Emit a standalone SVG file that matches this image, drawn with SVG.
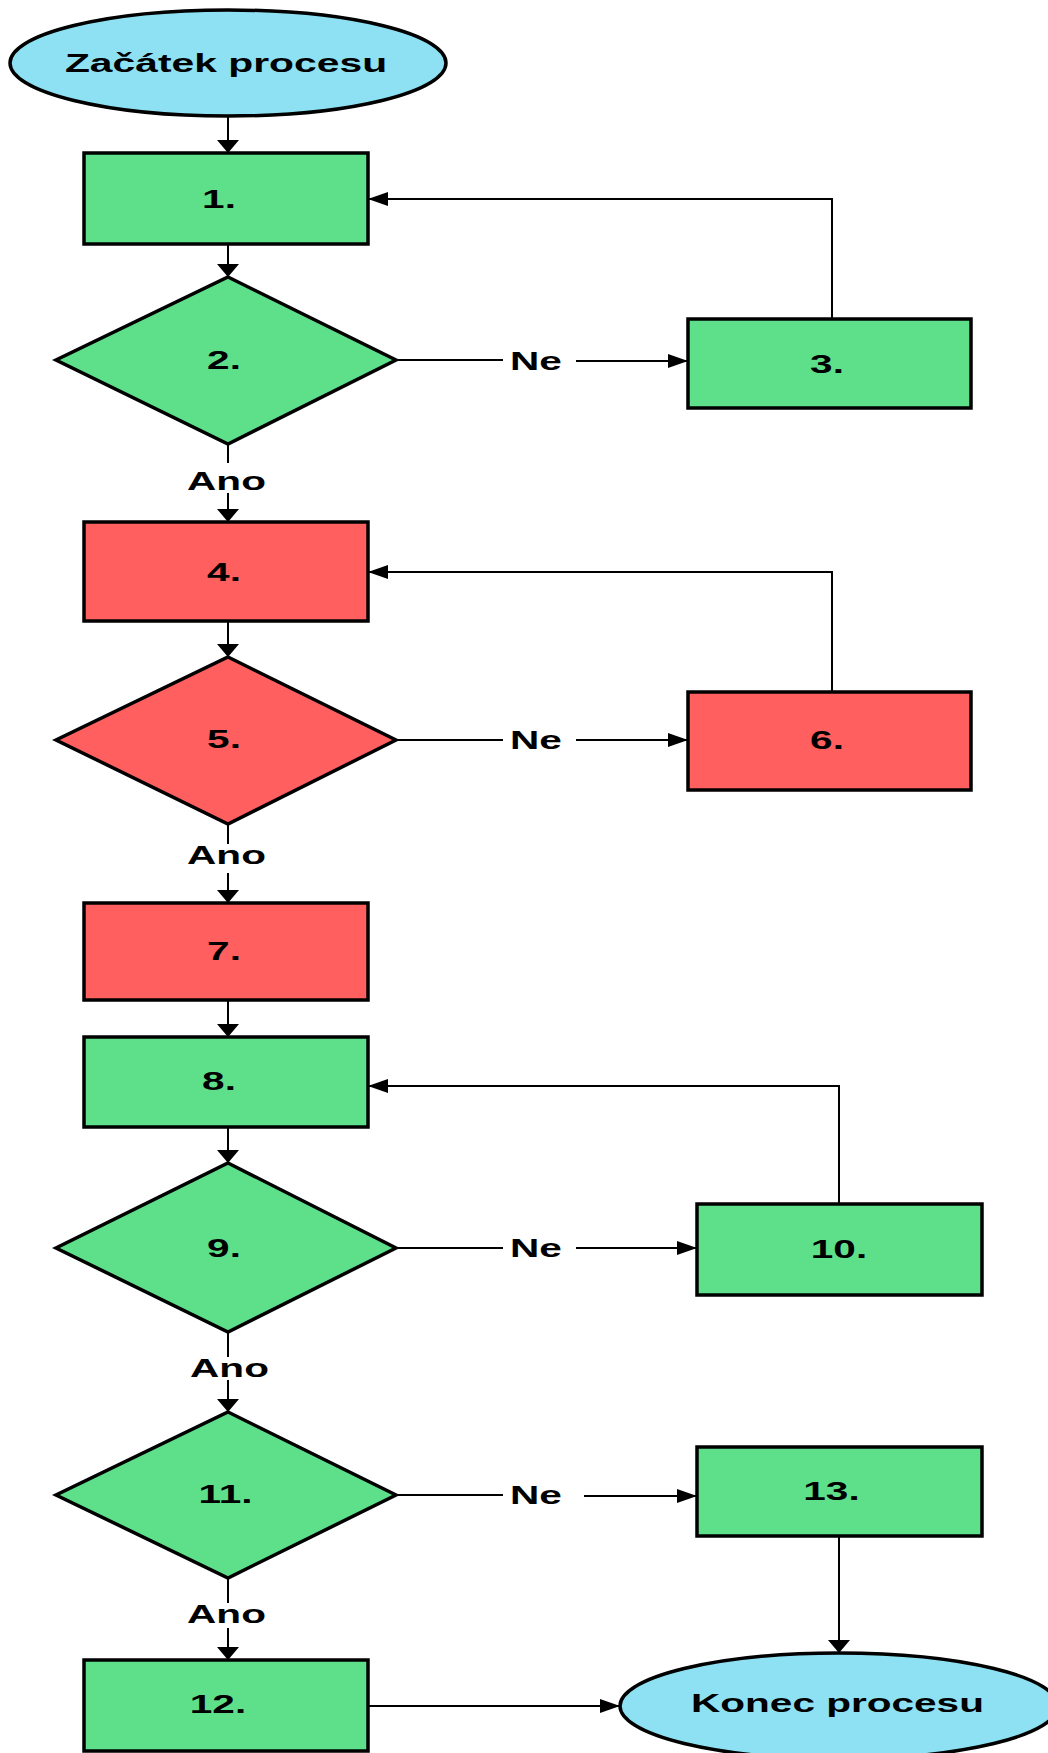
<svg xmlns="http://www.w3.org/2000/svg" width="1048" height="1753" viewBox="0 0 1048 1753">
<style>
.g{fill:#5EE08B;stroke:#000;stroke-width:3.5;stroke-linejoin:miter}
.r{fill:#FF5F5F;stroke:#000;stroke-width:3.5;stroke-linejoin:miter}
.b{fill:#8DE1F2;stroke:#000;stroke-width:3.5}
.c{fill:none;stroke:#000;stroke-width:2}
.t{font-family:"Liberation Sans",Arial,sans-serif;font-weight:bold;font-size:26px;fill:#000;text-anchor:middle}
</style>
<defs>
<marker id="aV" markerUnits="userSpaceOnUse" orient="auto" markerWidth="13" markerHeight="22" refX="13" refY="11" viewBox="0 0 13 22"><path d="M0,0 L13,11 L0,22 z" fill="#000"/></marker>
<marker id="aH" markerUnits="userSpaceOnUse" orient="auto" markerWidth="20" markerHeight="14" refX="20" refY="7" viewBox="0 0 20 14"><path d="M0,0 L20,7 L0,14 z" fill="#000"/></marker>
</defs>
<rect width="1048" height="1753" fill="#fff"/>
<g id="connectors">
<path class="c" d="M228,116 V153" marker-end="url(#aV)"/>
<path class="c" d="M228,244 V277" marker-end="url(#aV)"/>
<path class="c" d="M228,444 V463"/>
<path class="c" d="M228,493 V522" marker-end="url(#aV)"/>
<text class="t" transform="translate(226.5,490) scale(1.56,1)">Ano</text>
<path class="c" d="M396,360 H503"/>
<path class="c" d="M576,361 H688" marker-end="url(#aH)"/>
<text class="t" transform="translate(536,370) scale(1.56,1)">Ne</text>
<path class="c" d="M832,319 V199 H368" marker-end="url(#aH)"/>
<path class="c" d="M228,621 V657" marker-end="url(#aV)"/>
<path class="c" d="M228,824 V844"/>
<path class="c" d="M228,873 V903" marker-end="url(#aV)"/>
<text class="t" transform="translate(226.5,864) scale(1.56,1)">Ano</text>
<path class="c" d="M396,740 H503"/>
<path class="c" d="M576,740 H688" marker-end="url(#aH)"/>
<text class="t" transform="translate(536,749) scale(1.56,1)">Ne</text>
<path class="c" d="M832,692 V572 H368" marker-end="url(#aH)"/>
<path class="c" d="M228,1000 V1037" marker-end="url(#aV)"/>
<path class="c" d="M228,1127 V1163" marker-end="url(#aV)"/>
<path class="c" d="M228,1332 V1357"/>
<path class="c" d="M228,1380 V1412" marker-end="url(#aV)"/>
<text class="t" transform="translate(229.5,1377) scale(1.56,1)">Ano</text>
<path class="c" d="M396,1248 H503"/>
<path class="c" d="M576,1248 H697" marker-end="url(#aH)"/>
<text class="t" transform="translate(536,1257) scale(1.56,1)">Ne</text>
<path class="c" d="M839,1204 V1086 H368" marker-end="url(#aH)"/>
<path class="c" d="M228,1578 V1603"/>
<path class="c" d="M228,1628 V1660" marker-end="url(#aV)"/>
<text class="t" transform="translate(226.5,1623) scale(1.56,1)">Ano</text>
<path class="c" d="M396,1495 H503"/>
<path class="c" d="M584,1496 H697" marker-end="url(#aH)"/>
<text class="t" transform="translate(536,1504) scale(1.56,1)">Ne</text>
<path class="c" d="M839,1536 V1653" marker-end="url(#aV)"/>
<path class="c" d="M368,1706 H620" marker-end="url(#aH)"/>
</g>
<g id="start">
<ellipse class="b" cx="228" cy="63" rx="218" ry="53"/>
<text class="t" transform="translate(226,72) scale(1.57,1)">Začátek procesu</text>
</g>
<g id="n1">
<rect class="g" x="84" y="153" width="284" height="91"/>
<text class="t" transform="translate(219,208) scale(1.56,1)">1.</text>
</g>
<g id="n2">
<polygon class="g" points="228,277 396,360 228,444 56,360"/>
<text class="t" transform="translate(224,369) scale(1.56,1)">2.</text>
</g>
<g id="n3">
<rect class="g" x="688" y="319" width="283" height="89"/>
<text class="t" transform="translate(827,373) scale(1.56,1)">3.</text>
</g>
<g id="n4">
<rect class="r" x="84" y="522" width="284" height="99"/>
<text class="t" transform="translate(224,581) scale(1.56,1)">4.</text>
</g>
<g id="n5">
<polygon class="r" points="228,657 396,740 228,824 56,740"/>
<text class="t" transform="translate(224,748) scale(1.56,1)">5.</text>
</g>
<g id="n6">
<rect class="r" x="688" y="692" width="283" height="98"/>
<text class="t" transform="translate(827,749) scale(1.56,1)">6.</text>
</g>
<g id="n7">
<rect class="r" x="84" y="903" width="284" height="97"/>
<text class="t" transform="translate(224,960) scale(1.56,1)">7.</text>
</g>
<g id="n8">
<rect class="g" x="84" y="1037" width="284" height="90"/>
<text class="t" transform="translate(219,1090) scale(1.56,1)">8.</text>
</g>
<g id="n9">
<polygon class="g" points="228,1163 396,1248 228,1332 56,1248"/>
<text class="t" transform="translate(224,1257) scale(1.56,1)">9.</text>
</g>
<g id="n10">
<rect class="g" x="697" y="1204" width="285" height="91"/>
<text class="t" transform="translate(839,1258) scale(1.56,1)">10.</text>
</g>
<g id="n11">
<polygon class="g" points="228,1412 396,1495 228,1578 56,1495"/>
<text class="t" transform="translate(225.5,1503) scale(1.56,1)">11.</text>
</g>
<g id="n12">
<rect class="g" x="84" y="1660" width="284" height="91"/>
<text class="t" transform="translate(218,1713) scale(1.56,1)">12.</text>
</g>
<g id="n13">
<rect class="g" x="697" y="1447" width="285" height="89"/>
<text class="t" transform="translate(831.5,1500) scale(1.56,1)">13.</text>
</g>
<g id="end">
<ellipse class="b" cx="839" cy="1706" rx="219" ry="53"/>
<text class="t" transform="translate(837.5,1712) scale(1.56,1)">Konec procesu</text>
</g>
</svg>
